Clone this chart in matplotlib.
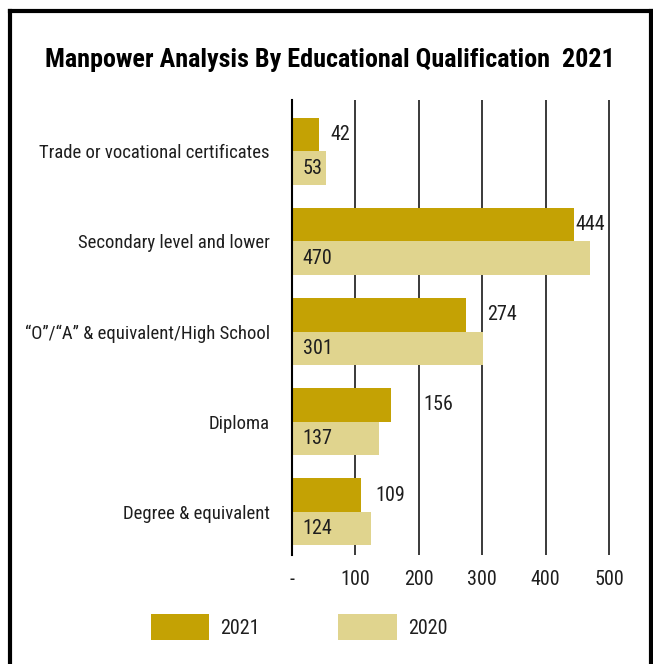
import matplotlib
matplotlib.use("Agg")
import matplotlib.pyplot as plt
from matplotlib import font_manager
from matplotlib.lines import Line2D
import numpy as np

# Data
categories = [
    "Trade or vocational certificates",
    "Secondary level and lower",
    "\u201cO\u201d/\u201cA\u201d & equivalent/High School",
    "Diploma",
    "Degree & equivalent",
]
values_2021 = [42, 444, 274, 156, 109]
values_2020 = [53, 470, 301, 137, 124]
series_names = ["2021", "2020"]
x_ticks = [0, 100, 200, 300, 400, 500]
x_tick_labels = ["-", "100", "200", "300", "400", "500"]
title = "Manpower Analysis By Educational Qualification  2021"

# Styling
color_2021 = "#C4A204"
color_2020 = "#E0D48E"
text_color = "#1e1e1e"
label_offsets_2021 = [18, 3, 34, 51, 22]   # data-unit gap between bar end and its label

available = {f.name for f in font_manager.fontManager.ttflist}
preferred = ["Roboto Condensed", "Archivo Narrow", "PT Sans Narrow", "Liberation Sans Narrow",
             "Arial Narrow", "Fira Sans Condensed", "IBM Plex Sans Condensed",
             "Encode Sans Condensed", "Barlow Condensed", "Open Sans Condensed", "Noto Sans"]
family = next((f for f in preferred if f in available), "DejaVu Sans")
plt.rcParams["font.family"] = [family, "DejaVu Sans"]

W, H = 653, 664
fig = plt.figure(figsize=(W / 100, H / 100), dpi=100)

# Axes placed in pixel terms
left, right, top, bottom = 292, 611, 100, 555
ax = fig.add_axes([left / W, 1 - bottom / H, (right - left) / W, (bottom - top) / H])

y = np.arange(len(categories))
h = 0.37
bars21 = ax.barh(y - h / 2, values_2021, height=h, color=color_2021, zorder=3, label=series_names[0])
bars20 = ax.barh(y + h / 2, values_2020, height=h, color=color_2020, zorder=3, label=series_names[1])

ax.set_xlim(0, 503)
ax.set_ylim(4.48, -0.57)

fs = 13.5      # category labels
fs_num = 14.5  # numbers: ticks, values, legend
ax.set_xticks(x_ticks)
ax.set_xticklabels(x_tick_labels, fontsize=fs_num, color=text_color)
ax.set_yticks(y)
ax.set_yticklabels(categories, fontsize=fs, color=text_color)
ax.tick_params(axis="both", length=0)
ax.tick_params(axis="x", pad=11)
ax.tick_params(axis="y", pad=16)

ax.grid(axis="x", color="#3a3a3a", linewidth=1.4, zorder=0)
ax.grid(axis="y", visible=False)
for s in ["top", "right", "bottom"]:
    ax.spines[s].set_visible(False)
ax.spines["left"].set_color("black")
ax.spines["left"].set_linewidth(1.5)
ax.spines["left"].set_zorder(4)

# Value labels
for yi, v, off in zip(y, values_2021, label_offsets_2021):
    ax.text(v + off, yi - h / 2, str(v), va="center", ha="left", fontsize=fs_num, color=text_color, zorder=5)
for yi, v in zip(y, values_2020):
    ax.text(17, yi + h / 2, str(v), va="center", ha="left", fontsize=fs_num, color=text_color, zorder=5)

# Title
fig.text(330 / W, 1 - 60 / H, title, ha="center", va="center", fontsize=18.8,
         fontweight="bold", color="black")

# Legend
fig.legend(handles=[bars21, bars20], labels=series_names, loc="center",
           bbox_to_anchor=(299 / W, 1 - 627 / H), ncol=2, frameon=False,
           fontsize=fs_num, handlelength=2.9, handleheight=1.55, handletextpad=0.55,
           columnspacing=3.9, labelcolor=text_color)

# Outer frame (open at the bottom)
frame_kw = dict(color="black", linewidth=3, transform=fig.transFigure, solid_capstyle="projecting")
fig.add_artist(Line2D([10 / W, 10 / W], [0, 1 - 11 / H], **frame_kw))
fig.add_artist(Line2D([10 / W, 651 / W], [1 - 11 / H, 1 - 11 / H], **frame_kw))
fig.add_artist(Line2D([651 / W, 651 / W], [0, 1 - 11 / H], **frame_kw))

fig.savefig("out.png", dpi=100, facecolor="white")
